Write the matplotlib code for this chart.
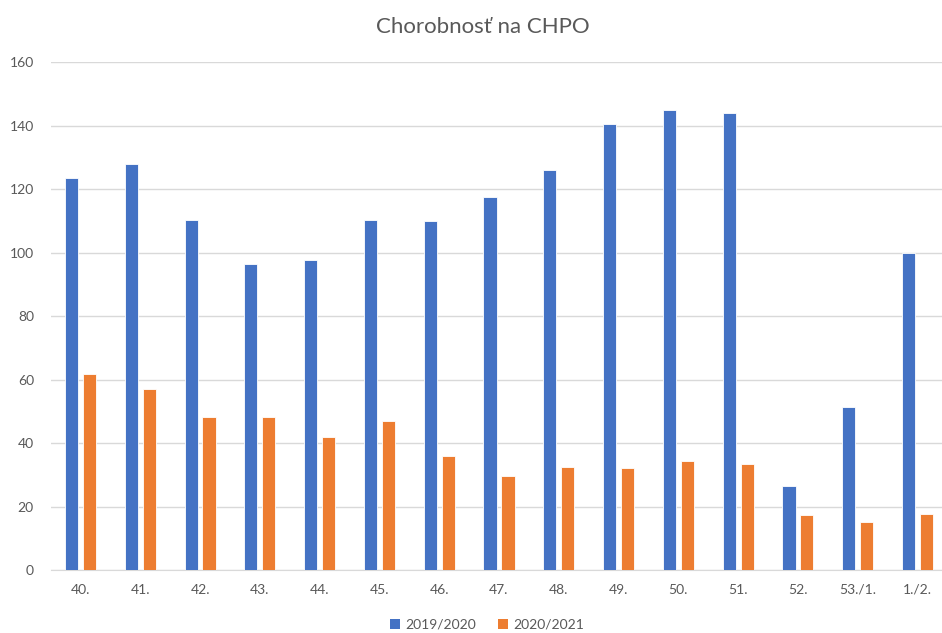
import matplotlib
matplotlib.use("Agg")
import matplotlib.pyplot as plt
import numpy as np
from matplotlib.patches import Patch

categories = ["40.", "41.", "42.", "43.", "44.", "45.", "46.", "47.", "48.", "49.", "50.", "51.", "52.", "53./1.", "1./2."]
s2019 = [123.5, 127.8, 110.4, 96.3, 97.6, 110.4, 109.9, 117.6, 126.1, 140.6, 144.8, 144.0, 26.5, 51.2, 99.8]
s2020 = [61.8, 57.1, 48.2, 48.2, 41.9, 46.9, 35.9, 29.6, 32.4, 32.1, 34.3, 33.4, 17.2, 15.1, 17.6]
series_names = ["2019/2020", "2020/2021"]
yticks = [0, 20, 40, 60, 80, 100, 120, 140, 160]

blue = "#4472C4"
orange = "#ED7D31"
txt = "#595959"
plt.rcParams['font.family'] = ['Lato', 'DejaVu Sans']

fig = plt.figure(figsize=(9.42, 6.33), dpi=100)
ax = fig.add_axes([0.0537, 0.0995, 0.952, 0.8025])

x = np.arange(len(categories))
w = 0.22
ax.bar(x - 0.15, s2019, width=w, color=blue, edgecolor="#FFFFFF", linewidth=0.6, zorder=3)
ax.bar(x + 0.15, s2020, width=w, color=orange, edgecolor="#FFFFFF", linewidth=0.6, zorder=3)

ax.set_xlim(-0.5, len(categories) - 0.5)
ax.set_ylim(0, 160)
ax.set_yticks(yticks)
ax.set_xticks(x)
ax.set_xticklabels(categories)
ax.grid(axis="y", color="#D9D9D9", linewidth=1, zorder=0)
for s in ["top", "right", "left"]:
    ax.spines[s].set_visible(False)
ax.spines["bottom"].set_color("#D9D9D9")
ax.tick_params(axis="both", length=0, colors=txt, labelsize=10)
ax.tick_params(axis="y", pad=12)
ax.tick_params(axis="x", pad=10)

fig.text(0.513, 0.958, "Chorobnosť na CHPO", ha="center", va="center", fontsize=16, color=txt)

handles = [Patch(facecolor=blue, label=series_names[0]), Patch(facecolor=orange, label=series_names[1])]
fig.legend(handles=handles, loc="center", bbox_to_anchor=(0.517, 0.013), ncol=2, frameon=False,
           fontsize=10, labelcolor=txt, handlelength=0.7, handleheight=0.7, handletextpad=0.4,
           columnspacing=1.6)

fig.savefig("out.png", dpi=100)
